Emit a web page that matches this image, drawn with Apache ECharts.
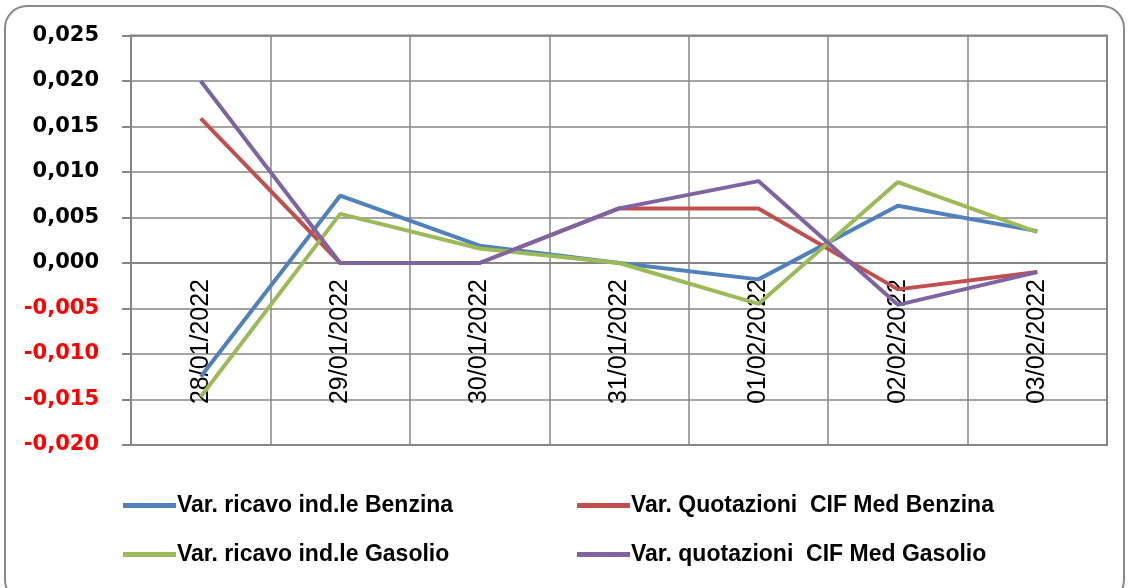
<!DOCTYPE html>
<html>
<head>
<meta charset="utf-8">
<script src="https://cdn.jsdelivr.net/npm/echarts@6/dist/echarts.min.js"></script>
<style>
  html, body { margin: 0; padding: 0; background: #fff; }
  #chart { width: 1128px; height: 588px; }
</style>
</head>
<body>
<div id="chart"></div>
<script>
// dates on the x axis
const dates = ['28/01/2022', '29/01/2022', '30/01/2022', '31/01/2022', '01/02/2022', '02/02/2022', '03/02/2022'];

// series values
const ricavoBenzina = [-0.0125, 0.0074, 0.0019, 0.0000, -0.0018, 0.0063, 0.0035];
const quotBenzina = [0.0159, 0.0000, 0.0000, 0.0060, 0.0060, -0.0029, -0.0010];
const ricavoGasolio = [-0.0147, 0.0054, 0.0016, 0.0000, -0.0045, 0.0089, 0.0034];
const quotGasolio = [0.0200, 0.0000, 0.0000, 0.0060, 0.0090, -0.0046, -0.0010];

const names = [
  'Var. ricavo ind.le Benzina',
  'Var. Quotazioni  CIF Med Benzina',
  'Var. ricavo ind.le Gasolio',
  'Var. quotazioni  CIF Med Gasolio'
];
const colors = ['#4f81bd', '#c0504d', '#9bbb59', '#8064a2'];

const chart = echarts.init(document.getElementById('chart'));
const gridColor = '#868686';

function line(name, data, color) {
  return {
    name: name,
    type: 'line',
    data: data,
    symbol: 'none',
    color: color,
    lineStyle: { width: 4, color: color },
    z: 3
  };
}

let legendBase = {
  orient: 'vertical',
  top: 489,
  itemGap: 26,
  itemWidth: 53,
  itemHeight: 5,
  icon: 'rect',
  textStyle: {
    fontFamily: 'Liberation Sans',
    fontWeight: 'bold',
    fontSize: 23,
    color: '#000',
    padding: [0, 0, 0, -4]
  }
};

let options = {
  backgroundColor: '#fff',
  animation: false,
  grid: {
    left: 131,
    right: 21,
    top: 35.5,
    bottom: 143,
    show: true,
    borderColor: gridColor,
    borderWidth: 2
  },
  legend: [
    Object.assign({}, legendBase, { left: 118, data: [names[0], names[2]] }),
    Object.assign({}, legendBase, { left: 572, data: [names[1], names[3]] })
  ],
  xAxis: {
    type: 'category',
    data: dates,
    boundaryGap: true,
    // axis sits on the zero line
    offset: -182,
    axisLine: { onZero: false, lineStyle: { color: gridColor, width: 2 } },
    axisTick: { show: false },
    axisLabel: {
      rotate: 90,
      margin: 16,
      interval: 0,
      fontFamily: 'Liberation Sans',
      fontSize: 25,
      color: '#000'
    },
    splitLine: { show: true, interval: 0, lineStyle: { color: gridColor, width: 1.5 } }
  },
  yAxis: {
    type: 'value',
    min: -0.02,
    max: 0.025,
    interval: 0.005,
    axisLine: { show: true, lineStyle: { color: gridColor, width: 2 } },
    axisTick: { show: true, inside: false, length: 9, lineStyle: { color: gridColor, width: 2 } },
    axisLabel: {
      margin: 32,
      fontFamily: 'DejaVu Sans',
      fontWeight: 'bold',
      fontSize: 21,
      formatter: v => v.toFixed(3).replace('.', ','),
      color: v => (v < -1e-9 ? '#ff0000' : '#000000')
    },
    splitLine: { show: true, lineStyle: { color: gridColor, width: 1.5 } }
  },
  graphic: [
    {
      type: 'rect',
      shape: { x: 5, y: 6, width: 1119, height: 596, r: 22 },
      style: { fill: 'none', stroke: '#8a8a8a', lineWidth: 2 },
      silent: true
    }
  ],
  series: [
    line(names[0], ricavoBenzina, colors[0]),
    line(names[1], quotBenzina, colors[1]),
    line(names[2], ricavoGasolio, colors[2]),
    line(names[3], quotGasolio, colors[3])
  ]
};

chart.setOption(options);
</script>
</body>
</html>
